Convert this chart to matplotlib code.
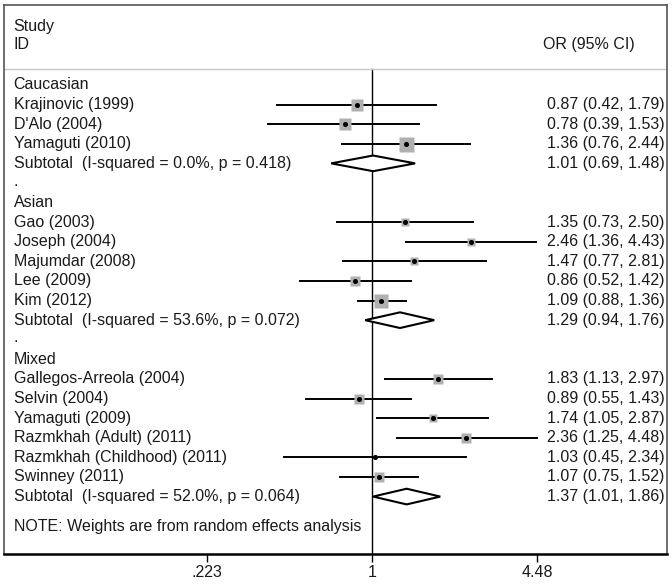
import numpy as np
import matplotlib
matplotlib.use("Agg")
import matplotlib.pyplot as plt
import matplotlib.transforms as mtransforms
from matplotlib.patches import Polygon

plt.rcParams["font.family"] = ["Liberation Sans", "DejaVu Sans"]

## data
groups = ["Caucasian", "Asian", "Mixed"]
studies = [
    ["Krajinovic (1999)", "D'Alo (2004)", "Yamaguti (2010)"],
    ["Gao (2003)", "Joseph (2004)", "Majumdar (2008)", "Lee (2009)", "Kim (2012)"],
    ["Gallegos-Arreola (2004)", "Selvin (2004)", "Yamaguti (2009)",
     "Razmkhah (Adult) (2011)", "Razmkhah (Childhood) (2011)", "Swinney (2011)"],
]
orr = [[0.87, 0.78, 1.36],
       [1.35, 2.46, 1.47, 0.86, 1.09],
       [1.83, 0.89, 1.74, 2.36, 1.03, 1.07]]
lo = [[0.42, 0.39, 0.76],
      [0.73, 1.36, 0.77, 0.52, 0.88],
      [1.13, 0.55, 1.05, 1.25, 0.45, 0.75]]
hi = [[1.79, 1.53, 2.44],
      [2.50, 4.43, 2.81, 1.42, 1.36],
      [2.97, 1.43, 2.87, 4.48, 2.34, 1.52]]
# approximate weights (box area)
weights = [[5.8, 6.3, 9.0],
           [2.6, 3.2, 3.2, 4.8, 6.8],
           [4.8, 4.8, 3.2, 4.0, 1.0, 4.0]]
sub_label = ["Subtotal  (I-squared = 0.0%, p = 0.418)",
             "Subtotal  (I-squared = 53.6%, p = 0.072)",
             "Subtotal  (I-squared = 52.0%, p = 0.064)"]
sub_or = [1.01, 1.29, 1.37]
sub_lo = [0.69, 0.94, 1.01]
sub_hi = [1.48, 1.76, 1.86]

xticks = [0.223, 1, 4.48]
xticklabels = [".223", "1", "4.48"]

W, H = 672, 587
fig = plt.figure(figsize=(W / 100, H / 100), dpi=100)
ax = fig.add_axes([4 / W, (H - 554) / H, (667 - 4) / W, (554 - 5) / H])

# x in log units, centred on 1 at pixel 372, ~110 px per ln unit
ax.set_xscale("log")
ax.set_xlim(np.exp((4 - 372) / 110), np.exp((667 - 372) / 110))
ax.set_ylim(23.93, -4.08)

fs = 11.5
tcol = "#1a1a1a"
left = mtransforms.blended_transform_factory(ax.transAxes, ax.transData)
xl = 0.0145
xr = 0.819

ax.text(xl, -3.0, "Study", transform=left, fontsize=fs, color=tcol, va="center")
ax.text(xl, -2.04, "ID", transform=left, fontsize=fs, color=tcol, va="center")
ax.text(xr - 0.006, -2.04, "OR (95% CI)", transform=left, fontsize=fs, color=tcol, va="center")
ax.axhline(-0.82, color="#c8c8c8", lw=1)

row = 0
for g in range(3):
    ax.text(xl, row, groups[g], transform=left, fontsize=fs, color=tcol, va="center")
    row += 1
    for i, name in enumerate(studies[g]):
        ax.text(xl, row, name, transform=left, fontsize=fs, color=tcol, va="center")
        ax.text(xr, row, "%.2f (%.2f, %.2f)" % (orr[g][i], lo[g][i], hi[g][i]),
                transform=left, fontsize=fs, color=tcol, va="center")
        ax.plot([lo[g][i], hi[g][i]], [row, row], color="black", lw=1.4, zorder=2)
        side = 5 * np.sqrt(weights[g][i]) * 0.72
        ax.plot(orr[g][i], row, marker="s", ms=side, color="#b0b0b0", mec="none", zorder=3)
        ax.plot(orr[g][i], row, marker="o", ms=2.6, color="black", zorder=4)
        row += 1
    ax.text(xl, row, sub_label[g], transform=left, fontsize=fs, color=tcol, va="center")
    ax.text(xr, row, "%.2f (%.2f, %.2f)" % (sub_or[g], sub_lo[g], sub_hi[g]),
            transform=left, fontsize=fs, color=tcol, va="center")
    dia = Polygon([[sub_lo[g], row], [sub_or[g], row - 0.4],
                   [sub_hi[g], row], [sub_or[g], row + 0.4]],
                  closed=True, facecolor="white", edgecolor="black", lw=1.5, zorder=5)
    ax.add_patch(dia)
    row += 1
    if g < 2:
        ax.text(xl, row - 0.1, ".", transform=left, fontsize=fs, color=tcol, va="center")
        row += 1

ax.text(xl, 22.55, "NOTE: Weights are from random effects analysis", transform=left,
        fontsize=fs, color=tcol, va="center")

ax.plot([1, 1], [-0.82, 23.93], color="black", lw=1, zorder=1)

ax.set_yticks([])
ax.set_xticks(xticks)
ax.set_xticklabels(xticklabels, fontsize=fs, color=tcol)
ax.minorticks_off()
ax.tick_params(axis="x", direction="out", length=6, width=1, pad=2)
for s in ["left", "right", "top"]:
    ax.spines[s].set_color("#555555")
    ax.spines[s].set_linewidth(1.2)
ax.spines["bottom"].set_color("black")
ax.spines["bottom"].set_linewidth(1.8)

fig.savefig("out.png", dpi=100)
